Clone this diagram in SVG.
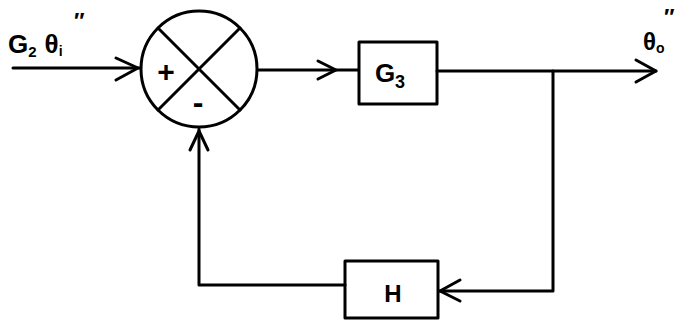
<svg xmlns="http://www.w3.org/2000/svg" width="684" height="323" viewBox="0 0 684 323">
<style>
.ln{fill:none;stroke:#000;stroke-width:3;stroke-linecap:round;stroke-linejoin:round}
.tx{font-family:"Liberation Sans",Arial,sans-serif;font-weight:bold;fill:#000}
</style>
<rect width="684" height="323" fill="#fff"/>
<g id="connectors">
<path class="ln" d="M13,68 H140"/>
<path class="ln" d="M116,58 L138,68 L116,80"/>
<path class="ln" d="M258,70 H358"/>
<path class="ln" d="M318,61 L336,70 L318,79"/>
<path class="ln" d="M437,71 H656"/>
<path class="ln" d="M636,60 L656,71 L636,82"/>
<path class="ln" d="M553,71 V291 H439"/>
<path class="ln" d="M460,280 L440,291 L460,301"/>
<path class="ln" d="M345,285 H199 V129"/>
<path class="ln" d="M190,150 L199,131 L208,150"/>
</g>
<g id="sum">
<circle class="ln" cx="199" cy="69" r="58"/>
<path class="ln" d="M158,28 L240,110 M240,28 L158,110"/>
<text class="tx" x="166" y="82" font-size="30" text-anchor="middle">+</text>
<text class="tx" x="198" y="113" font-size="32" text-anchor="middle">-</text>
</g>
<g id="input-label">
<text class="tx" x="8" y="53" font-size="26">G<tspan font-size="15" dy="4">2</tspan><tspan dy="-4" dx="8">θ</tspan><tspan font-size="14" dy="3">i</tspan></text>
<text class="tx" x="74" y="28" font-size="22">″</text>
</g>
<g id="G3">
<rect class="ln" x="359" y="42" width="78" height="62"/>
<text class="tx" x="390" y="82" font-size="26" text-anchor="middle">G<tspan font-size="18" dy="6">3</tspan></text>
</g>
<g id="output-label">
<text class="tx" x="643" y="50" font-size="24">θ<tspan font-size="14" dy="3">o</tspan></text>
<text class="tx" x="664" y="24" font-size="22">″</text>
</g>
<g id="H">
<rect class="ln" x="345" y="261" width="93" height="57"/>
<text class="tx" x="393" y="302" font-size="24" text-anchor="middle">H</text>
</g>
</svg>
